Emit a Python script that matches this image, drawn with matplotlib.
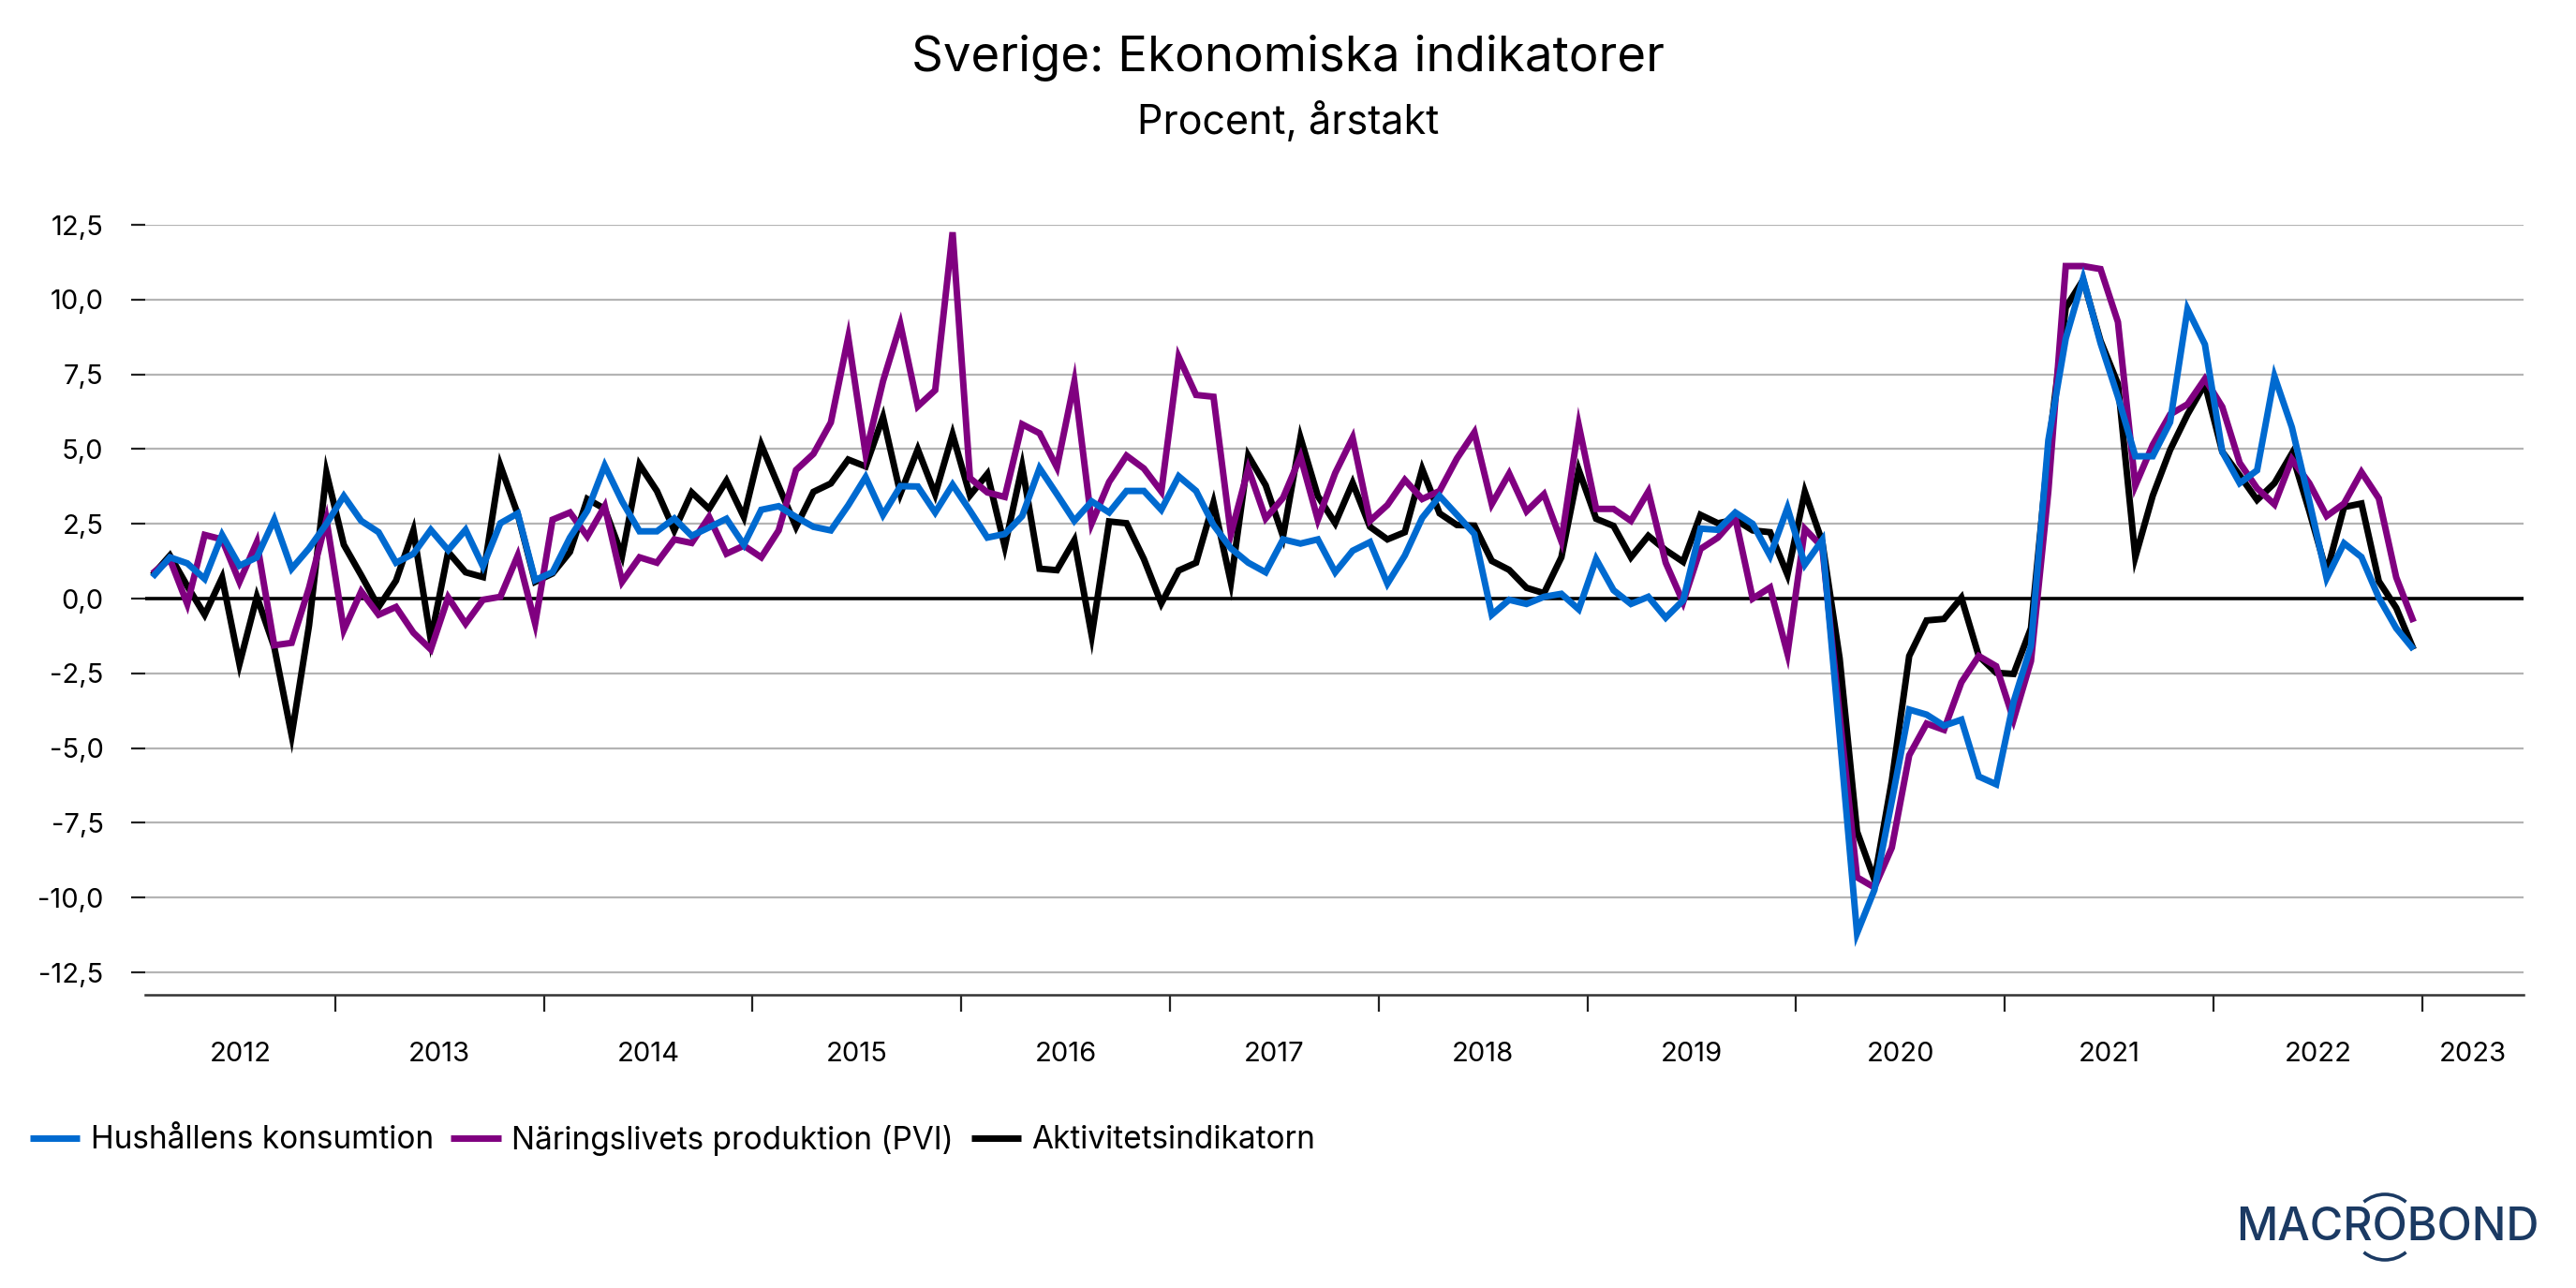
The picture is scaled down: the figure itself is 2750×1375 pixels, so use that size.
import matplotlib
matplotlib.use('Agg')
import matplotlib.pyplot as plt
from matplotlib.patches import Arc
import numpy as np

plt.rcParams['font.family'] = ['Inter', 'DejaVu Sans']

title = 'Sverige: Ekonomiska indikatorer'
subtitle = 'Procent, årstakt'
logo = 'MACROBOND'

names = ['Hushållens konsumtion', 'Näringslivets produktion (PVI)', 'Aktivitetsindikatorn']
colors = ['#006ad0', '#800080', '#000000']

# monthly values, feb 2012 - dec 2022
hushall = [0.72, 1.38, 1.18, 0.66, 2.13, 1.1, 1.38, 2.64, 1.0, 1.68, 2.5, 3.43, 2.6, 2.22, 1.2, 1.5,
           2.3, 1.62, 2.3, 1.08, 2.52, 2.85, 0.62, 0.88, 2.04, 2.94, 4.45, 3.25, 2.25, 2.25, 2.68, 2.1,
           2.38, 2.67, 1.8, 2.97, 3.09, 2.73, 2.4, 2.28, 3.12, 4.06, 2.8, 3.76, 3.75, 2.88, 3.81, 2.94,
           2.04, 2.16, 2.76, 4.36, 3.49, 2.6, 3.25, 2.88, 3.6, 3.6, 2.97, 4.09, 3.6, 2.46, 1.68, 1.2,
           0.88, 1.98, 1.84, 1.98, 0.88, 1.6, 1.89, 0.5, 1.44, 2.7, 3.43, 2.8, 2.16, -0.54, -0.04, -0.18,
           0.06, 0.16, -0.36, 1.32, 0.28, -0.18, 0.06, -0.64, -0.06, 2.34, 2.3, 2.88, 2.5, 1.43, 3.03, 1.14,
           1.96, -4.56, -11.19, -9.74, -6.77, -3.71, -3.88, -4.25, -4.05, -5.95, -6.21, -3.45, -1.58, 5.3, 8.7, 10.71,
           8.54, 6.75, 4.76, 4.76, 5.9, 9.68, 8.5, 4.91, 3.86, 4.29, 7.43, 5.73, 3.27, 0.68, 1.85, 1.39,
           0.03, -0.99, -1.7]
pvi = [0.84, 1.32, -0.18, 2.13, 1.98, 0.56, 1.89, -1.56, -1.48, 0.36, 2.64, -1.05, 0.24, -0.54, -0.28, -1.14,
       -1.7, 0.04, -0.84, -0.04, 0.06, 1.44, -0.84, 2.64, 2.88, 2.08, 3.09, 0.56, 1.38, 1.2, 1.98, 1.86,
       2.73, 1.5, 1.77, 1.38, 2.28, 4.3, 4.84, 5.89, 8.74, 4.83, 7.27, 9.17, 6.43, 6.97, 12.25, 4.03,
       3.55, 3.4, 5.83, 5.53, 4.39, 7.25, 2.52, 3.9, 4.78, 4.35, 3.58, 8.08, 6.81, 6.75, 2.16, 4.35,
       2.68, 3.37, 4.75, 2.64, 4.2, 5.38, 2.6, 3.13, 3.97, 3.33, 3.6, 4.69, 5.56, 3.16, 4.18, 2.92,
       3.49, 1.92, 5.8, 3.0, 3.0, 2.6, 3.58, 1.2, -0.12, 1.66, 2.04, 2.7, 0.0, 0.37, -1.84, 2.33,
       1.73, -3.9, -9.32, -9.66, -8.33, -5.24, -4.18, -4.39, -2.8, -1.92, -2.26, -4.05, -2.09, 3.6, 11.12, 11.12,
       11.02, 9.25, 3.78, 5.14, 6.16, 6.5, 7.35, 6.41, 4.54, 3.69, 3.15, 4.66, 3.86, 2.76, 3.18, 4.23,
       3.35, 0.71, -0.78]
aktivitet = [0.78, 1.44, 0.42, -0.54, 0.7, -2.19, 0.06, -1.62, -4.57, -0.9, 4.21, 1.8, 0.78, -0.28, 0.6, 2.28,
             -1.38, 1.56, 0.88, 0.72, 4.45, 2.82, 0.56, 0.84, 1.56, 3.33, 3.0, 1.44, 4.48, 3.6, 2.28, 3.55,
             3.0, 3.94, 2.73, 5.14, 3.76, 2.4, 3.57, 3.85, 4.65, 4.42, 6.07, 3.51, 4.99, 3.49, 5.49, 3.45,
             4.17, 1.74, 4.42, 1.0, 0.95, 1.95, -1.24, 2.58, 2.52, 1.32, -0.16, 0.94, 1.2, 3.21, 0.54, 4.78,
             3.79, 2.08, 5.38, 3.43, 2.52, 3.87, 2.4, 1.98, 2.22, 4.33, 2.85, 2.46, 2.44, 1.26, 0.96, 0.36,
             0.18, 1.38, 4.3, 2.67, 2.43, 1.38, 2.1, 1.62, 1.23, 2.8, 2.52, 2.64, 2.28, 2.22, 0.8, 3.57,
             1.9, -2.0, -7.79, -9.4, -6.09, -1.92, -0.73, -0.68, 0.03, -1.92, -2.48, -2.52, -0.99, 4.97, 9.73, 10.66,
             8.62, 7.18, 1.39, 3.44, 4.97, 6.16, 7.18, 4.91, 4.12, 3.3, 3.86, 4.85, 2.93, 0.88, 3.06, 3.18,
             0.58, -0.31, -1.7]
series = [hushall, pvi, aktivitet]

years = [2012, 2013, 2014, 2015, 2016, 2017, 2018, 2019, 2020, 2021, 2022, 2023]
yticks = [12.5, 10, 7.5, 5, 2.5, 0, -2.5, -5, -7.5, -10, -12.5]
ylabels = ['12,5', '10,0', '7,5', '5,0', '2,5', '0,0', '-2,5', '-5,0', '-7,5', '-10,0', '-12,5']

W, H = 2750, 1375
fig = plt.figure(figsize=(W / 100, H / 100), dpi=100, facecolor='white')
L, R, T, B = 155, 2694, 240, 1062
ax = fig.add_axes([L / W, 1 - B / H, (R - L) / W, (B - T) / H])

x = 2012 + (1 + np.arange(len(hushall)) + 0.5) / 12
zorders = [5, 4, 3]
lines = []
for s, c, n, z in zip(series, colors, names, zorders):
    l, = ax.plot(x, s, color=c, lw=5, label=n, zorder=z, solid_joinstyle='miter', solid_capstyle='butt')
    lines.append(l)

xmin, xmax = 2012.09, 2023.485
ax.set_xlim(xmin, xmax)
ax.set_ylim(-13.25, 12.5)

ax.grid(axis='y', color='#b4b4b4', lw=1.6)
ax.set_axisbelow(True)
ax.axhline(0, color='black', lw=2.6, zorder=2)
for side in ['top', 'left', 'right']:
    ax.spines[side].set_visible(False)
ax.spines['bottom'].set_linewidth(1.8)
ax.spines['bottom'].set_color('#333333')

ax.set_yticks(yticks)
ax.set_yticklabels(ylabels)
ax.tick_params(axis='y', length=11, width=1.6, color='#222222', pad=21, labelsize=21)

# year ticks at the year breaks, labels centred in the visible part of each year
ax.set_xticks(years[1:])
ax.set_xticklabels([])
ax.tick_params(axis='x', which='major', length=13, width=1.6, color='#222222')
edges = [xmin] + years[1:] + [xmax]
mids = [(edges[i] + edges[i + 1]) / 2 for i in range(len(years))]
ax.set_xticks(mids, minor=True)
ax.set_xticklabels([str(y) for y in years], minor=True)
ax.tick_params(axis='x', which='minor', length=0, pad=36, labelsize=21)

fig.text(0.5, 1 - 62 / H, title, ha='center', va='center', fontsize=38)
fig.text(0.5, 1 - 130 / H, subtitle, ha='center', va='center', fontsize=31)

fig.legend(handles=lines, loc='center left', bbox_to_anchor=(32 / W, 1 - 1217 / H), ncol=3, frameon=False,
           fontsize=24, handlelength=1.6, handletextpad=0.35, columnspacing=0.55, borderpad=0, borderaxespad=0)

# logo
logo_ax = fig.add_axes([0, 0, 1, 1], facecolor='none')
logo_ax.set_xlim(0, W)
logo_ax.set_ylim(H, 0)
logo_ax.axis('off')
logo_color = '#1b3a63'
logo_ax.text(2549, 1311, logo, ha='center', va='center', fontsize=35, color=logo_color, fontweight='medium')
logo_ax.add_patch(Arc((2546, 1310), 70, 70, theta1=-130, theta2=-50, color=logo_color, lw=2.6))
logo_ax.add_patch(Arc((2546, 1310), 70, 70, theta1=50, theta2=130, color=logo_color, lw=2.6))

fig.savefig('out.png', dpi=100)
